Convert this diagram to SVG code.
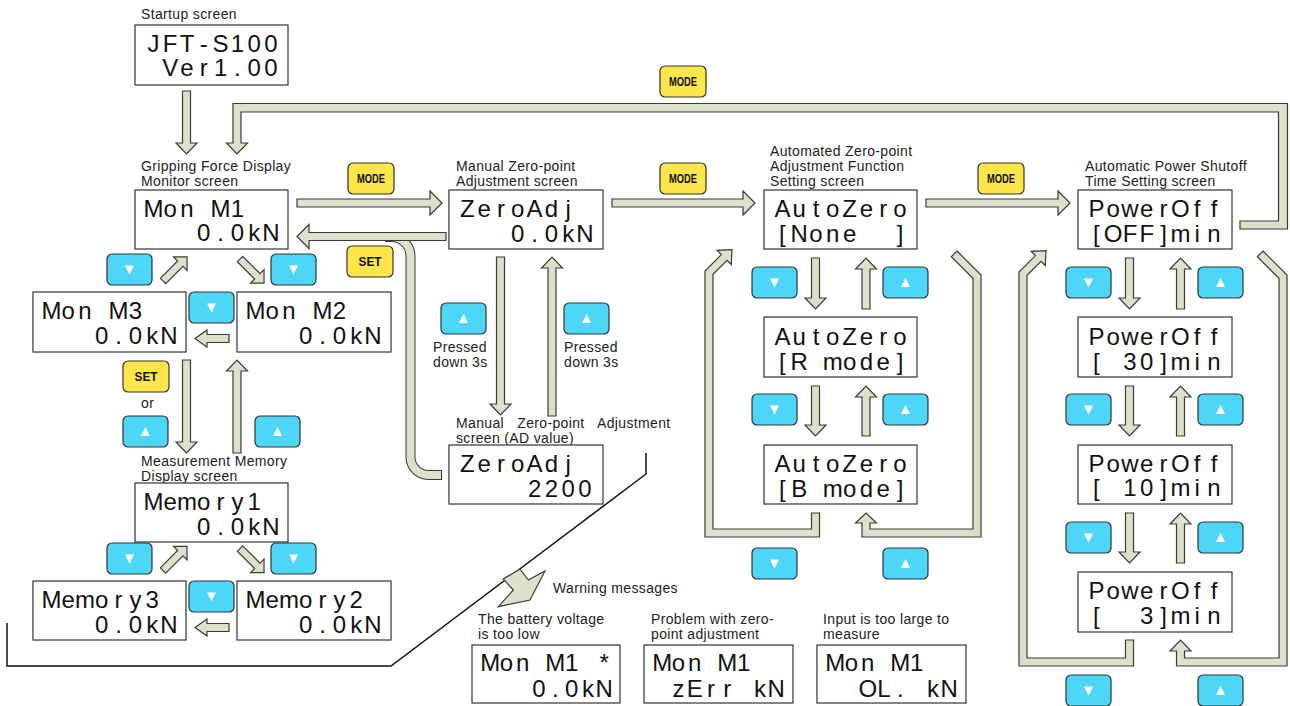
<svg xmlns="http://www.w3.org/2000/svg" width="1290" height="706" viewBox="0 0 1290 706">
<style>
.box{fill:#fff;stroke:#333;stroke-width:1.2}
.lcd{font-family:"Liberation Sans",Arial,sans-serif;font-size:24px;fill:#111;text-anchor:middle;white-space:pre}
.lbl{font-family:"Liberation Sans",Arial,sans-serif;font-size:14px;letter-spacing:0.35px;fill:#222}
.arr{fill:#dde0cb;stroke:#3a3a3a;stroke-width:1.2;stroke-linejoin:miter}
.bb{fill:#4dd6f7;stroke:#333;stroke-width:1.2}
.yb{fill:#fde649;stroke:#333;stroke-width:1.2}
.tri{fill:#fff}
.bt{font-family:"Liberation Sans",Arial,sans-serif;font-weight:bold;font-size:13px;fill:#111;text-anchor:middle}
.band-d{fill:none;stroke:#3a3a3a;stroke-width:10}
.band-l{fill:none;stroke:#dde0cb;stroke-width:8}
</style>
<defs>
<g id="bDown"><rect class="bb" width="45" height="31" rx="5"/><polygon class="tri" points="18,11.5 27,11.5 22.5,20.5"/></g>
<g id="bUp"><rect class="bb" width="45" height="31" rx="5"/><polygon class="tri" points="18,20 27,20 22.5,11"/></g>
<polygon id="diag" points="0,-3.8 24.5,-3.8 24.5,-9.5 34,0 24.5,9.5 24.5,3.8 0,3.8"/>
</defs>
<rect width="1290" height="706" fill="#fff"/>

<g id="connectors">
<polyline points="7,623 7,666 391,666 646,474 646,453" fill="none" stroke="#111" stroke-width="1.5"/>
<polygon class="arr" points="520,569 528.3,580 545,571 530,600 498.3,606.7 513.3,590 503.3,579"/>
<polygon class="arr" points="182.5,91 190.5,91 190.5,143 197,143 186.5,154 176,143 182.5,143"/>
<polygon class="arr" points="1240,221 1278.5,221 1278.5,112 241,112 241,143 247.5,143 237,154 226.5,143 233,143 233,103.5 1287.5,103.5 1287.5,229 1240,229"/>
<polygon class="arr" points="297,199 430,199 430,191 442,203 430,215 430,207 297,207"/>
<polygon class="arr" points="612,199 743,199 743,191 755,203 743,215 743,207 612,207"/>
<polygon class="arr" points="926,199 1058,199 1058,191 1070,203 1058,215 1058,207 926,207"/>
<path class="band-d" d="M442,475 H428.5 A18,18 0 0 1 410.5,457 V256 A19,19 0 0 0 391.5,237 H385"/>
<path class="band-l" d="M441,475 H428.5 A18,18 0 0 1 410.5,457 V256 A19,19 0 0 0 391.5,237 H384"/>
<polygon class="arr" points="446,232.5 309,232.5 309,224.5 297,236.5 309,248.5 309,240.5 446,240.5"/>
<polygon class="arr" points="182.5,360 190.5,360 190.5,442 197,442 186.5,453 176,442 182.5,442"/>
<polygon class="arr" points="233,453 241,453 241,371 247.5,371 237,360 226.5,371 233,371"/>
<polygon class="arr" points="496.5,257 504.5,257 504.5,404 511,404 500.5,415 490,404 496.5,404"/>
<polygon class="arr" points="548,416 556,416 556,268 562.5,268 552,257 541.5,268 548,268"/>
<polygon class="arr" points="811.5,258 819.5,258 819.5,298 826,298 815.5,309 805,298 811.5,298"/>
<polygon class="arr" points="862,309 870,309 870,269 876.5,269 866,258 855.5,269 862,269"/>
<polygon class="arr" points="811.5,386 819.5,386 819.5,425 826,425 815.5,436 805,425 811.5,425"/>
<polygon class="arr" points="862,436 870,436 870,397 876.5,397 866,386 855.5,397 862,397"/>
<polygon class="arr" points="1125.5,258 1133.5,258 1133.5,298 1140,298 1129.5,309 1119,298 1125.5,298"/>
<polygon class="arr" points="1176.5,309 1184.5,309 1184.5,269 1191,269 1180.5,258 1170,269 1176.5,269"/>
<polygon class="arr" points="1125.5,386 1133.5,386 1133.5,425 1140,425 1129.5,436 1119,425 1125.5,425"/>
<polygon class="arr" points="1176.5,436 1184.5,436 1184.5,397 1191,397 1180.5,386 1170,397 1176.5,397"/>
<polygon class="arr" points="1125.5,513 1133.5,513 1133.5,552 1140,552 1129.5,563 1119,552 1125.5,552"/>
<polygon class="arr" points="1176.5,563 1184.5,563 1184.5,524 1191,524 1180.5,513 1170,524 1176.5,524"/>
<polygon class="arr" points="229,334.5 207,334.5 207,330 195,338.5 207,347 207,342.5 229,342.5"/>
<polygon class="arr" points="229,623.5 207,623.5 207,619 195,627.5 207,636 207,631.5 229,631.5"/>
<use href="#diag" class="arr" transform="translate(163,281) rotate(-45)"/>
<use href="#diag" class="arr" transform="translate(240,259) rotate(45)"/>
<use href="#diag" class="arr" transform="translate(163,570.5) rotate(-45)"/>
<use href="#diag" class="arr" transform="translate(240,548.5) rotate(45)"/>
<polygon class="arr" points="811.5,513 811.5,529 713,529 713,274.31 727.05,260.27 731.29,264.51 732,249.66 717.15,250.37 721.39,254.61 705,271 705,537 819.5,537 819.5,513"/>
<polygon class="arr" points="957,251 981,275 981,537 862,537 862,523 855.5,523 866,513 876.5,523 870,523 870,529 973,529 973,278.31 951.34,256.66"/>
<polygon class="arr" points="1125.5,640 1125.5,658 1027,658 1027,275.31 1041.05,261.27 1045.29,265.51 1046,250.66 1031.15,251.37 1035.39,255.61 1019,272 1019,666 1133.5,666 1133.5,640"/>
<polygon class="arr" points="1263,251 1287,275 1287,666 1176.5,666 1176.5,651 1170,651 1180.5,640 1191,651 1184.5,651 1184.5,658 1279,658 1279,278.31 1257.34,256.66"/>
</g>

<g id="buttons">
<use href="#bDown" x="107" y="254"/>
<use href="#bDown" x="271" y="254"/>
<use href="#bDown" x="189" y="292"/>
<use href="#bDown" x="107" y="543"/>
<use href="#bDown" x="271" y="543"/>
<use href="#bDown" x="189" y="581"/>
<use href="#bUp" x="123" y="416"/>
<use href="#bUp" x="255" y="416"/>
<use href="#bUp" x="441" y="303"/>
<use href="#bUp" x="564" y="303"/>
<use href="#bDown" x="752" y="267"/>
<use href="#bDown" x="752" y="394"/>
<use href="#bDown" x="752" y="548"/>
<use href="#bUp" x="883" y="267"/>
<use href="#bUp" x="883" y="394"/>
<use href="#bUp" x="883" y="548"/>
<use href="#bDown" x="1066" y="267"/>
<use href="#bDown" x="1066" y="394"/>
<use href="#bDown" x="1066" y="522"/>
<use href="#bDown" x="1066" y="675"/>
<use href="#bUp" x="1198" y="267"/>
<use href="#bUp" x="1198" y="394"/>
<use href="#bUp" x="1198" y="522"/>
<use href="#bUp" x="1198" y="675"/>
<g id="btn-set-left"><rect class="yb" x="123" y="361" width="46" height="31" rx="5"/><text class="bt" x="146" y="381" textLength="23" lengthAdjust="spacingAndGlyphs">SET</text></g>
<g id="btn-set-return"><rect class="yb" x="347" y="246" width="46" height="31" rx="5"/><text class="bt" x="370" y="266" textLength="23" lengthAdjust="spacingAndGlyphs">SET</text></g>
<g id="btn-mode-1"><rect class="yb" x="348" y="163" width="46" height="31" rx="5"/><text class="bt" x="371" y="183" textLength="28" lengthAdjust="spacingAndGlyphs">MODE</text></g>
<g id="btn-mode-2"><rect class="yb" x="660" y="163" width="46" height="31" rx="5"/><text class="bt" x="683" y="183" textLength="28" lengthAdjust="spacingAndGlyphs">MODE</text></g>
<g id="btn-mode-3"><rect class="yb" x="978" y="163" width="46" height="31" rx="5"/><text class="bt" x="1001" y="183" textLength="28" lengthAdjust="spacingAndGlyphs">MODE</text></g>
<g id="btn-mode-4"><rect class="yb" x="660" y="66" width="46" height="31" rx="5"/><text class="bt" x="683" y="86" textLength="28" lengthAdjust="spacingAndGlyphs">MODE</text></g>
</g>

<g id="startup">
<text class="lbl" x="141" y="19">Startup screen</text>
<rect class="box" x="135" y="25" width="153" height="60"/>
<text class="lcd" xml:space="preserve"><tspan x="153.4 170.2 187 203.8 220.6 237.4 254.2 271" y="51.5">JFT-S100</tspan><tspan x="170.2 187 203.8 220.6 237.4 254.2 271" y="76">Ver1.00</tspan></text>
</g>

<g id="monitor-m1">
<text class="lbl"><tspan x="141" y="170.7">Gripping Force Display</tspan><tspan x="141" y="185.7">Monitor screen</tspan></text>
<rect class="box" x="135" y="190" width="153" height="59"/>
<text class="lcd" xml:space="preserve"><tspan x="153.4 170.2 187 203.8 220.6 237.4" y="216.5">Mon M1</tspan><tspan x="203.8 220.6 237.4 254.2 271" y="241">0.0kN</tspan></text>
</g>

<g id="monitor-m3">
<rect class="box" x="33" y="292" width="153" height="60"/>
<text class="lcd" xml:space="preserve"><tspan x="51.4 68.2 85 101.8 118.6 135.4" y="319">Mon M3</tspan><tspan x="101.8 118.6 135.4 152.2 169" y="343.5">0.0kN</tspan></text>
</g>

<g id="monitor-m2">
<rect class="box" x="237" y="292" width="154" height="60"/>
<text class="lcd" xml:space="preserve"><tspan x="255.4 272.2 289 305.8 322.6 339.4" y="319">Mon M2</tspan><tspan x="305.8 322.6 339.4 356.2 373" y="343.5">0.0kN</tspan></text>
</g>

<g id="or-label">
<text class="lbl" x="141" y="407.7">or</text>
</g>

<g id="memory-1">
<text class="lbl"><tspan x="141" y="466">Measurement Memory</tspan><tspan x="141" y="481">Display screen</tspan></text>
<rect class="box" x="135" y="483" width="153" height="59"/>
<text class="lcd" xml:space="preserve"><tspan x="153.4 170.2 187 203.8 220.6 237.4 254.2" y="510">Memory1</tspan><tspan x="203.8 220.6 237.4 254.2 271" y="534.5">0.0kN</tspan></text>
</g>

<g id="memory-3">
<rect class="box" x="33" y="581" width="153" height="59"/>
<text class="lcd" xml:space="preserve"><tspan x="51.4 68.2 85 101.8 118.6 135.4 152.2" y="608">Memory3</tspan><tspan x="101.8 118.6 135.4 152.2 169" y="632.5">0.0kN</tspan></text>
</g>

<g id="memory-2">
<rect class="box" x="237" y="581" width="154" height="59"/>
<text class="lcd" xml:space="preserve"><tspan x="255.4 272.2 289 305.8 322.6 339.4 356.2" y="608">Memory2</tspan><tspan x="305.8 322.6 339.4 356.2 373" y="632.5">0.0kN</tspan></text>
</g>

<g id="zeroadj-manual">
<text class="lbl"><tspan x="456" y="170.7">Manual Zero-point</tspan><tspan x="456" y="185.7">Adjustment screen</tspan></text>
<rect class="box" x="449" y="190" width="154" height="59"/>
<text class="lcd" xml:space="preserve"><tspan x="467.4 484.2 501 517.8 534.6 551.4 568.2" y="217">ZeroAdj</tspan><tspan x="517.8 534.6 551.4 568.2 585" y="241.5">0.0kN</tspan></text>
<text class="lbl"><tspan x="433" y="351.5">Pressed</tspan><tspan x="433" y="366.5">down 3s</tspan></text>
<text class="lbl"><tspan x="564" y="351.5">Pressed</tspan><tspan x="564" y="366.5">down 3s</tspan></text>
</g>

<g id="zeroadj-ad">
<text class="lbl"><tspan x="456" y="428" word-spacing="9">Manual Zero-point Adjustment</tspan><tspan x="456" y="443">screen (AD value)</tspan></text>
<rect class="box" x="449" y="445" width="154" height="59"/>
<text class="lcd" xml:space="preserve"><tspan x="467.4 484.2 501 517.8 534.6 551.4 568.2" y="472">ZeroAdj</tspan><tspan x="534.6 551.4 568.2 585" y="496.5">2200</tspan></text>
</g>

<g id="autozero-none">
<text class="lbl"><tspan x="770" y="155.5">Automated Zero-point</tspan><tspan x="770" y="170.7">Adjustment Function</tspan><tspan x="770" y="185.7">Setting screen</tspan></text>
<rect class="box" x="764" y="190" width="153" height="59"/>
<text class="lcd" xml:space="preserve"><tspan x="782.4 799.2 816 832.8 849.6 866.4 883.2 900" y="217">AutoZero</tspan><tspan x="782.4 799.2 816 832.8 849.6 866.4 883.2 900" y="241.5">[None  ]</tspan></text>
</g>

<g id="autozero-r">
<rect class="box" x="764" y="317" width="153" height="60"/>
<text class="lcd" xml:space="preserve"><tspan x="782.4 799.2 816 832.8 849.6 866.4 883.2 900" y="345">AutoZero</tspan><tspan x="782.4 799.2 816 832.8 849.6 866.4 883.2 900" y="369.5">[R mode]</tspan></text>
</g>

<g id="autozero-b">
<rect class="box" x="764" y="445" width="153" height="59"/>
<text class="lcd" xml:space="preserve"><tspan x="782.4 799.2 816 832.8 849.6 866.4 883.2 900" y="472">AutoZero</tspan><tspan x="782.4 799.2 816 832.8 849.6 866.4 883.2 900" y="496.5">[B mode]</tspan></text>
</g>

<g id="poweroff-off">
<text class="lbl"><tspan x="1085" y="170.7">Automatic Power Shutoff</tspan><tspan x="1085" y="185.7">Time Setting screen</tspan></text>
<rect class="box" x="1078" y="190" width="154" height="59"/>
<text class="lcd" xml:space="preserve"><tspan x="1096.4 1113.2 1130 1146.8 1163.6 1180.4 1197.2 1214" y="217">PowerOff</tspan><tspan x="1096.4 1113.2 1130 1146.8 1163.6 1180.4 1197.2 1214" y="241.5">[OFF]min</tspan></text>
</g>

<g id="poweroff-30">
<rect class="box" x="1078" y="317" width="154" height="60"/>
<text class="lcd" xml:space="preserve"><tspan x="1096.4 1113.2 1130 1146.8 1163.6 1180.4 1197.2 1214" y="345">PowerOff</tspan><tspan x="1096.4 1113.2 1130 1146.8 1163.6 1180.4 1197.2 1214" y="369.5">[ 30]min</tspan></text>
</g>

<g id="poweroff-10">
<rect class="box" x="1078" y="445" width="154" height="59"/>
<text class="lcd" xml:space="preserve"><tspan x="1096.4 1113.2 1130 1146.8 1163.6 1180.4 1197.2 1214" y="471.5">PowerOff</tspan><tspan x="1096.4 1113.2 1130 1146.8 1163.6 1180.4 1197.2 1214" y="496">[ 10]min</tspan></text>
</g>

<g id="poweroff-3">
<rect class="box" x="1078" y="572" width="154" height="60"/>
<text class="lcd" xml:space="preserve"><tspan x="1096.4 1113.2 1130 1146.8 1163.6 1180.4 1197.2 1214" y="599">PowerOff</tspan><tspan x="1096.4 1113.2 1130 1146.8 1163.6 1180.4 1197.2 1214" y="623.5">[  3]min</tspan></text>
</g>

<g id="warning-title">
<text class="lbl" x="553" y="592.5">Warning messages</text>
</g>

<g id="warn-battery">
<text class="lbl"><tspan x="478" y="624">The battery voltage</tspan><tspan x="478" y="639">is too low</tspan></text>
<rect class="box" x="472" y="645" width="148" height="58"/>
<text class="lcd" xml:space="preserve"><tspan x="490.15 506.45 522.75 539.05 555.35 571.65 587.95 604.25" y="671">Mon M1 *</tspan><tspan x="539.05 555.35 571.65 587.95 604.25" y="697">0.0kN</tspan></text>
</g>

<g id="warn-zero">
<text class="lbl"><tspan x="651" y="624">Problem with zero-</tspan><tspan x="651" y="639">point adjustment</tspan></text>
<rect class="box" x="644" y="645" width="149" height="58"/>
<text class="lcd" xml:space="preserve"><tspan x="662.15 678.45 694.75 711.05 727.35 743.65" y="671">Mon M1</tspan><tspan x="678.45 694.75 711.05 727.35 743.65 759.95 776.25" y="697">zErr kN</tspan></text>
</g>

<g id="warn-overload">
<text class="lbl"><tspan x="823" y="624">Input is too large to</tspan><tspan x="823" y="639">measure</tspan></text>
<rect class="box" x="817" y="645" width="149" height="58"/>
<text class="lcd" xml:space="preserve"><tspan x="835.15 851.45 867.75 884.05 900.35 916.65" y="671">Mon M1</tspan><tspan x="867.75 884.05 900.35 916.65 932.95 949.25" y="697">OL. kN</tspan></text>
</g>
</svg>
